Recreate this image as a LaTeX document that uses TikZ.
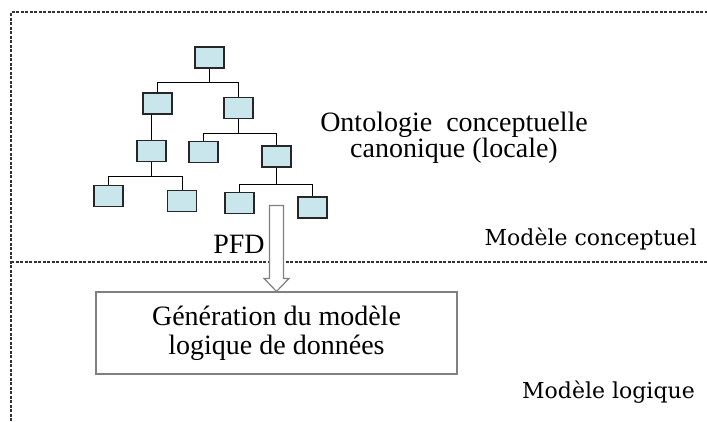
\documentclass[tikz,border=0pt]{standalone}
\usepackage{fontspec}
\setmainfont{Liberation Serif}
\newfontfamily\levelfont{DejaVu Serif}
\usetikzlibrary{calc}
\usetikzlibrary{positioning}

\definecolor{boxblue}{RGB}{200,230,236}
\definecolor{framegray}{RGB}{50,50,50}
\definecolor{arrowgray}{RGB}{128,128,128}

\begin{document}
\begin{tikzpicture}[x=1pt,y=-1pt]
        \tikzset{cls/.style= {draw=black!85, fill=boxblue, line width=1.1pt, minimum width=29pt, minimum height=21pt, inner sep=0pt},
        sep/.style= {draw=framegray, dash pattern=on 3pt off 1.5pt, line width=1.2pt},
        gblock/.style= {draw=arrowgray, line width=1.1pt, align=center, minimum width=361pt, minimum height=82pt, inner sep=0pt, font=\fontsize{28}{29}\selectfont},
        txt/.style={align=center, inner sep=0pt, font=\fontsize{28}{24}\selectfont},
        lvl/.style={inner sep=0pt, font=\levelfont\fontsize{22}{24}\selectfont},
        hollow/.style={draw=arrowgray, fill=white, line width=1.2pt, line join=miter}
        }
        \useasboundingbox (0,0) rectangle (707,421);

%% frame
        \coordinate (frame_tl) at (11,12);
        \coordinate (frame_tr) at (707,12);
        \coordinate (frame_bl) at (11,421);
        \coordinate (split_l) at (11,262);
        \coordinate (split_r) at (707,262);
        \draw[sep] (frame_bl) -- (frame_tl) -- (frame_tr);
        \draw[sep] (split_l) -- (split_r);

%% ontology tree
        \node [cls] (root) at (209.5,57.5) {};
        \node [cls] (c_left) at (157.5,103.5) {};
        \node [cls] (c_right) at (238.5,108) {};
        \node [cls] (c_ll) at (151.5,151) {};
        \node [cls] (c_rl) at (203.5,152) {};
        \node [cls] (c_rr) at (276.5,156.5) {};
        \node [cls] (c_lll) at (108.5,196) {};
        \node [cls] (c_llr) at (182,201) {};
        \node [cls] (c_rrl) at (239.5,203) {};
        \node [cls] (c_rrr) at (312.5,207.5) {};

        \node [txt] (onto) at (454,138) {Ontologie\ \ conceptuelle\\canonique (locale)};
        \node [lvl, anchor=base east] (lvl_conc) at (697,245) {Modèle conceptuel};
        \node [lvl, anchor=base east] (lvl_log) at (695,398) {Modèle logique};

        \node [gblock] (gen) at (276.5,333) {Génération du modèle\\logique de données};
        \node [txt, anchor=base] (pfd) at (239,253) {PFD};

%% paths
        \coordinate (bar_root) at ($(root.south)+(0,14)$);
        \coordinate (bar_ll) at ($(c_ll.south)+(0,14)$);
        \coordinate (bar_right) at ($(c_right.south)+(0,14)$);
        \coordinate (bar_rr) at ($(c_rr.south)+(0,17)$);
        \path[draw, line width=1pt] (root.south) -- (bar_root)
                    (c_left.north) |- (bar_root) -| (c_right.north)
                    (c_ll.north) -- (c_ll.north |- c_left.south)
                    (c_ll.south) -- (bar_ll)
                    (c_lll.north) |- (bar_ll) -| (c_llr.north)
                    (c_right.south) -- (bar_right)
                    (c_rl.north) |- (bar_right) -| (c_rr.north)
                    (c_rr.south) -- (bar_rr)
                    (c_rrl.north) |- (bar_rr) -| (c_rrr.north)
                    ;
        % hollow arrow down to the generation step
        \draw[hollow] (gen.north) -- ++(12.5,-13) -- ++(-5.5,0) -- ++(0,-73)
                    -- ++(-14,0) -- ++(0,73) -- ++(-5.5,0) -- cycle;
    \end{tikzpicture}
\end{document}
